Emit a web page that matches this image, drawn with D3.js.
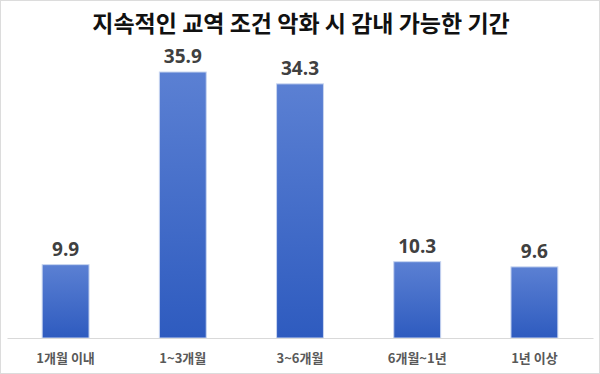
<!DOCTYPE html>
<html>
<head>
<meta charset="utf-8">
<script src="https://cdn.jsdelivr.net/npm/d3@7"></script>
<style>
  html, body { margin: 0; padding: 0; background: #fff; }
  #chart { width: 600px; height: 374px; }
</style>
</head>
<body>
<div id="chart"></div>
<script>
const title = "지속적인 교역 조건 악화 시 감내 가능한 기간";
const categories = ["1개월 이내", "1~3개월", "3~6개월", "6개월~1년", "1년 이상"];
const values = [9.9, 35.9, 34.3, 10.3, 9.6];

const W = 600, H = 374;
const font = "'Noto Sans CJK KR', 'Noto Sans', sans-serif";

const svg = d3.select("#chart").append("svg")
  .attr("width", W)
  .attr("height", H);

// gradient for the bars
const grad = svg.append("defs").append("linearGradient")
  .attr("id", "barGrad")
  .attr("x1", 0).attr("y1", 0).attr("x2", 0).attr("y2", 1);
grad.append("stop").attr("offset", "0%").attr("stop-color", "#5b80d3");
grad.append("stop").attr("offset", "100%").attr("stop-color", "#2e5bbf");

// outer frame
svg.append("rect")
  .attr("x", 0.5).attr("y", 0.5)
  .attr("width", W - 1).attr("height", H - 1)
  .attr("fill", "#fff")
  .attr("stroke", "#dcdcdc");

const baseY = 338;

const x = d3.scaleBand()
  .domain(categories)
  .range([7, 593])
  .paddingInner(0.6)
  .paddingOuter(0.3);

const y = d3.scaleLinear()
  .domain([0, 35.9])
  .range([baseY, 72]);

// title
svg.append("text")
  .attr("x", W / 2 + 1)
  .attr("y", 32)
  .attr("text-anchor", "middle")
  .style("font-family", font)
  .style("font-size", "23px")
  .style("font-weight", "700")
  .style("fill", "#111")
  .text(title);

// bars
svg.selectAll(".bar")
  .data(values)
  .enter().append("rect")
  .attr("class", "bar")
  .attr("x", (d, i) => x(categories[i]))
  .attr("y", d => y(d))
  .attr("width", x.bandwidth())
  .attr("height", d => baseY - y(d))
  .attr("fill", "url(#barGrad)")
  .attr("stroke", "#c8d5f0")
  .attr("stroke-width", 1);

// value labels
svg.selectAll(".val")
  .data(values)
  .enter().append("text")
  .attr("class", "val")
  .attr("x", (d, i) => x(categories[i]) + x.bandwidth() / 2)
  .attr("y", d => y(d) - 9)
  .attr("text-anchor", "middle")
  .style("font-family", "'Open Sans', sans-serif")
  .style("font-size", "19px")
  .style("font-weight", "700")
  .style("fill", "#404040")
  .text(d => d.toFixed(1));

// x axis
const xAxis = svg.append("g")
  .attr("transform", `translate(0,${baseY})`)
  .call(d3.axisBottom(x).tickSize(0).tickPadding(16));
xAxis.select(".domain")
  .attr("stroke", "#d9d9d9")
  .attr("stroke-width", 1);
xAxis.selectAll("text")
  .style("font-family", font)
  .style("font-size", "13px")
  .style("font-weight", "700")
  .style("fill", "#595959");
</script>
</body>
</html>
